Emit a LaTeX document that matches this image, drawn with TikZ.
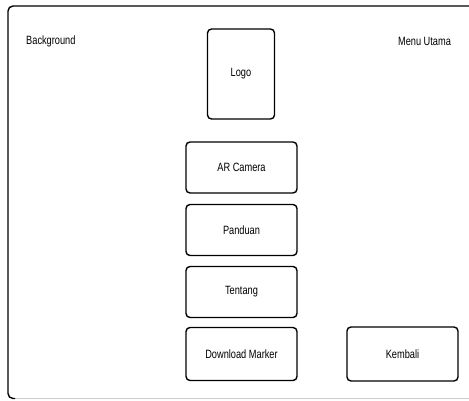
\documentclass[tikz,border=0pt]{standalone}
\usepackage{fontspec}
\setmainfont{Liberation Sans}[FakeStretch=0.77]
\usepackage{tikz}

\begin{document}
\begin{tikzpicture}[x=1pt,y=-1pt,
    box/.style={draw,line width=1.4pt,rounded corners=4pt,inner sep=0pt,
        minimum width=111pt,minimum height=51pt,font=\fontsize{12}{14}\selectfont},
    label/.style={inner sep=0pt,font=\fontsize{12}{14}\selectfont}]
\useasboundingbox (0,0) rectangle (469,401);

% Screen frame
\draw[black!20,line width=0.8pt] (12,398.5) -- (469,398.5);
\draw[line width=1.4pt,rounded corners=5pt] (15,398.5) -- (8,398.5) -- (8,6) -- (480,6);

% Corner labels
\node[label,anchor=west] (bg) at (26,41) {Background};
\node[label] (menu) at (424.5,41) {Menu Utama};

% Logo
\node[box,minimum width=67pt,minimum height=90pt] (logo) at (241,74) {Logo};

% Menu buttons
\node[box] (camera) at (241.5,167.5) {AR Camera};
\node[box] (panduan) at (241.5,230) {Panduan};
\node[box] (tentang) at (241.5,292) {Tentang};
\node[box,minimum height=53pt] (marker) at (241.5,354) {Download Marker};

% Back button
\node[box,minimum height=54pt] (kembali) at (402.5,354) {Kembali};
\end{tikzpicture}
\end{document}
